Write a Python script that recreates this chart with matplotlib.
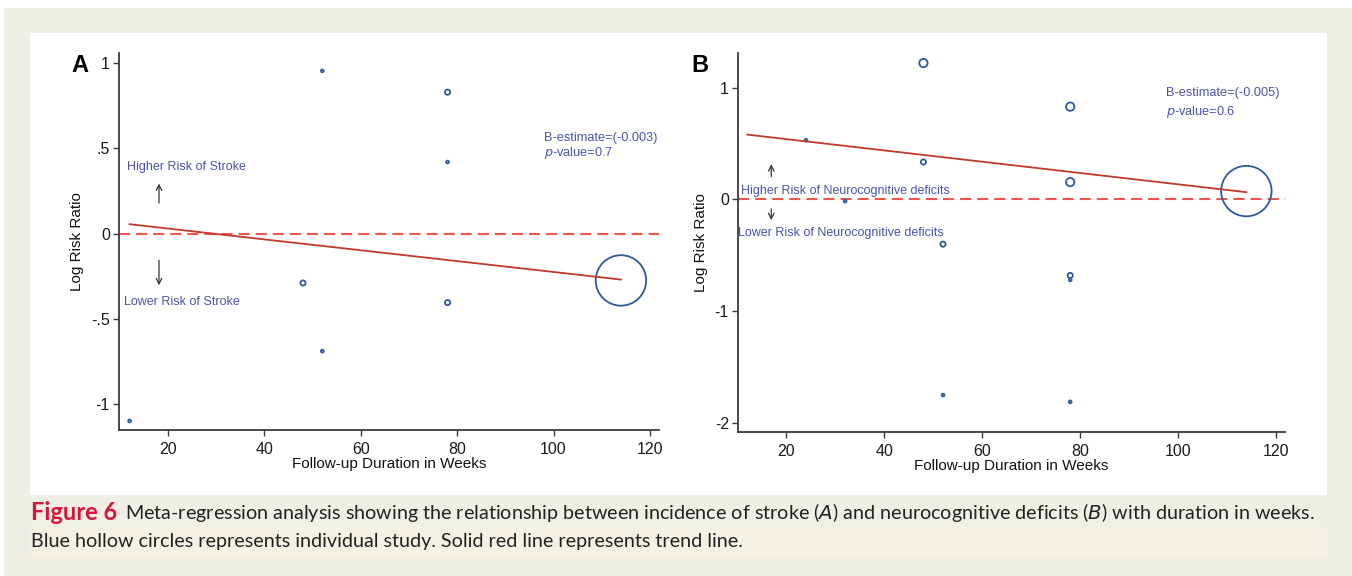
import matplotlib
matplotlib.use("Agg")
import matplotlib.pyplot as plt
from matplotlib.patches import Rectangle
from matplotlib import font_manager as fm

# ---------------- data ----------------
# Panel A: stroke
a_weeks   = [52, 78, 78, 48, 78, 52, 12, 114]
a_logrr   = [0.955, 0.83, 0.42, -0.29, -0.405, -0.69, -1.10, -0.275]
a_weight  = [1.0, 3.5, 1.0, 3.5, 3.5, 1.0, 1.0, 330]
a_trend_x = [12, 114]
a_trend_y = [0.055, -0.27]

# Panel B: neurocognitive deficits
b_weeks   = [48, 78, 24, 48, 78, 32, 52, 78, 78, 52, 78, 114]
b_logrr   = [1.22, 0.83, 0.53, 0.335, 0.155, -0.015, -0.40, -0.68, -0.72, -1.75, -1.81, 0.075]
b_weight  = [9, 9, 1.0, 3.5, 9, 1.0, 3.5, 3.5, 1.0, 1.0, 1.0, 330]
b_trend_x = [12, 114]
b_trend_y = [0.58, 0.065]

x_ticks = [20, 40, 60, 80, 100, 120]
a_yticks = [1, 0.5, 0, -0.5, -1]
a_yticklabels = ["1", ".5", "0", "-.5", "-1"]
b_yticks = [1, 0, -1, -2]
b_yticklabels = ["1", "0", "-1", "-2"]

a_stats = ["B-estimate=(-0.003)", "$\\it{p}$-value=0.7"]
b_stats = ["B-estimate=(-0.005)", "$\\it{p}$-value=0.6"]

# ---------------- style ----------------
W, H = 1352, 576
names = {f.name for f in fm.fontManager.ttflist}
narrow = "Liberation Sans Narrow" if "Liberation Sans Narrow" in names else "Liberation Sans"
cap_font = "Lato"

BLUE = "#2f5a9a"
TXT_BLUE = "#4a55a8"
RED = "#c0392b"
DASH_RED = "#f2544e"
AXC = "#3a3a3a"

fig = plt.figure(figsize=(W / 100, H / 100), dpi=100)
fig.patch.set_facecolor("white")

def px_rect(x0, y0, x1, y1, color, z=0):
    fig.patches.append(Rectangle((x0 / W, 1 - y1 / H), (x1 - x0) / W, (y1 - y0) / H,
                                 transform=fig.transFigure, facecolor=color,
                                 edgecolor="none", zorder=z))

px_rect(4, 8, W, H, "#eeeee5", z=-3)
px_rect(30, 33, 1327, 495, "white", z=-2)
px_rect(30, 495, 1327, 527, "#efefe5", z=-2)
px_rect(30, 527, 1327, 557, "#f4f1e2", z=-2)

def make_axes(x0, x1, y0, y1):
    return fig.add_axes([x0 / W, 1 - y1 / H, (x1 - x0) / W, (y1 - y0) / H])

def style(ax, xlim, ylim, yticks, ylabels):
    ax.set_xlim(*xlim)
    ax.set_ylim(*ylim)
    ax.set_facecolor("none")
    for s in ["top", "right"]:
        ax.spines[s].set_visible(False)
    for s in ["left", "bottom"]:
        ax.spines[s].set_color(AXC)
        ax.spines[s].set_linewidth(1.3)
    ax.set_xticks(x_ticks)
    ax.set_xticklabels([str(t) for t in x_ticks])
    ax.set_yticks(yticks)
    ax.set_yticklabels(ylabels)
    ax.tick_params(axis="both", length=4.5, width=1.0, color=AXC, labelsize=11.5,
                   labelcolor="#1a1a1a")
    ax.tick_params(axis="x", pad=4)
    ax.tick_params(axis="y", pad=2)
    for lab in ax.get_xticklabels() + ax.get_yticklabels():
        lab.set_family(narrow)
    ax.set_xlabel("Follow-up Duration in Weeks", family=narrow, fontsize=11,
                  color="#111111", labelpad=0)
    ax.set_ylabel("Log Risk Ratio", family=narrow, fontsize=11, color="#111111",
                  labelpad=5)

DASH = (0, (5.3, 2.9))

# ---------------- Panel A ----------------
axA = make_axes(119, 659, 53, 430)
style(axA, (9.8, 121.9), (-1.153, 1.06), a_yticks, a_yticklabels)
axA.axhline(0, color=DASH_RED, lw=1.5, ls=DASH, zorder=1)
axA.scatter(a_weeks, a_logrr, s=[w * 4 for w in a_weight], facecolors="none",
            edgecolors=BLUE, linewidths=1.3, zorder=3)
axA.plot(a_trend_x, a_trend_y, color=RED, lw=1.3, zorder=4)
axA.text(11.4, 0.388, "Higher Risk of Stroke", color=TXT_BLUE, family=narrow,
         fontsize=9, va="center", ha="left")
axA.text(10.8, -0.40, "Lower Risk of Stroke", color=TXT_BLUE, family=narrow,
         fontsize=9, va="center", ha="left")
axA.annotate("", xy=(18.1, 0.31), xytext=(18.1, 0.163),
             arrowprops=dict(arrowstyle="->", color="#333333", lw=0.9))
axA.annotate("", xy=(18.1, -0.32), xytext=(18.1, -0.14),
             arrowprops=dict(arrowstyle="->", color="#333333", lw=0.9))
axA.text(98, 0.56, a_stats[0], color=TXT_BLUE, family=narrow, fontsize=9.2,
         va="center", ha="left")
axA.text(98, 0.473, a_stats[1], color=TXT_BLUE, family=narrow, fontsize=9.2,
         va="center", ha="left")
fig.text(80 / W, 1 - 66 / H, "A", fontsize=17, fontweight="bold",
         family="Liberation Sans", ha="center", va="center")

# ---------------- Panel B ----------------
axB = make_axes(738, 1285, 53, 432)
style(axB, (10.1, 121.9), (-2.08, 1.31), b_yticks, b_yticklabels)
axB.axhline(0, color=DASH_RED, lw=1.5, ls=DASH, zorder=1)
axB.scatter(b_weeks, b_logrr, s=[w * 4 for w in b_weight], facecolors="none",
            edgecolors=BLUE, linewidths=1.3, zorder=3)
axB.plot(b_trend_x, b_trend_y, color=RED, lw=1.3, zorder=4)
axB.text(10.8, 0.075, "Higher Risk of Neurocognitive deficits", color=TXT_BLUE,
         family=narrow, fontsize=9, va="center", ha="left")
axB.text(10.2, -0.30, "Lower Risk of Neurocognitive deficits", color=TXT_BLUE,
         family=narrow, fontsize=9, va="center", ha="left")
axB.annotate("", xy=(16.9, 0.34), xytext=(16.9, 0.18),
             arrowprops=dict(arrowstyle="->", color="#333333", lw=0.9))
axB.annotate("", xy=(16.9, -0.21), xytext=(16.9, -0.06),
             arrowprops=dict(arrowstyle="->", color="#333333", lw=0.9))
axB.text(97.5, 0.95, b_stats[0], color=TXT_BLUE, family=narrow, fontsize=9.2,
         va="center", ha="left")
axB.text(97.5, 0.78, b_stats[1], color=TXT_BLUE, family=narrow, fontsize=9.2,
         va="center", ha="left")
fig.text(700 / W, 1 - 66 / H, "B", fontsize=17, fontweight="bold",
         family="Liberation Sans", ha="center", va="center")

# ---------------- Caption ----------------
t1 = fig.text(31 / W, 1 - 513 / H, "Figure 6", fontsize=17, fontweight="bold",
              color="#d4163c", family=cap_font, ha="left", va="center")
fig.canvas.draw()
bb = t1.get_window_extent()
fig.text((bb.x1 + 8) / W, 1 - 513 / H,
         "Meta-regression analysis showing the relationship between incidence of stroke ($\\it{A}$) "
         "and neurocognitive deficits ($\\it{B}$) with duration in weeks.",
         fontsize=14.2, color="#222222", family=cap_font, ha="left", va="center")
fig.text(31 / W, 1 - 542 / H,
         "Blue hollow circles represents individual study. Solid red line represents trend line.",
         fontsize=14.2, color="#222222", family=cap_font, ha="left", va="center")

fig.savefig("out.png", dpi=100, facecolor=fig.get_facecolor())
